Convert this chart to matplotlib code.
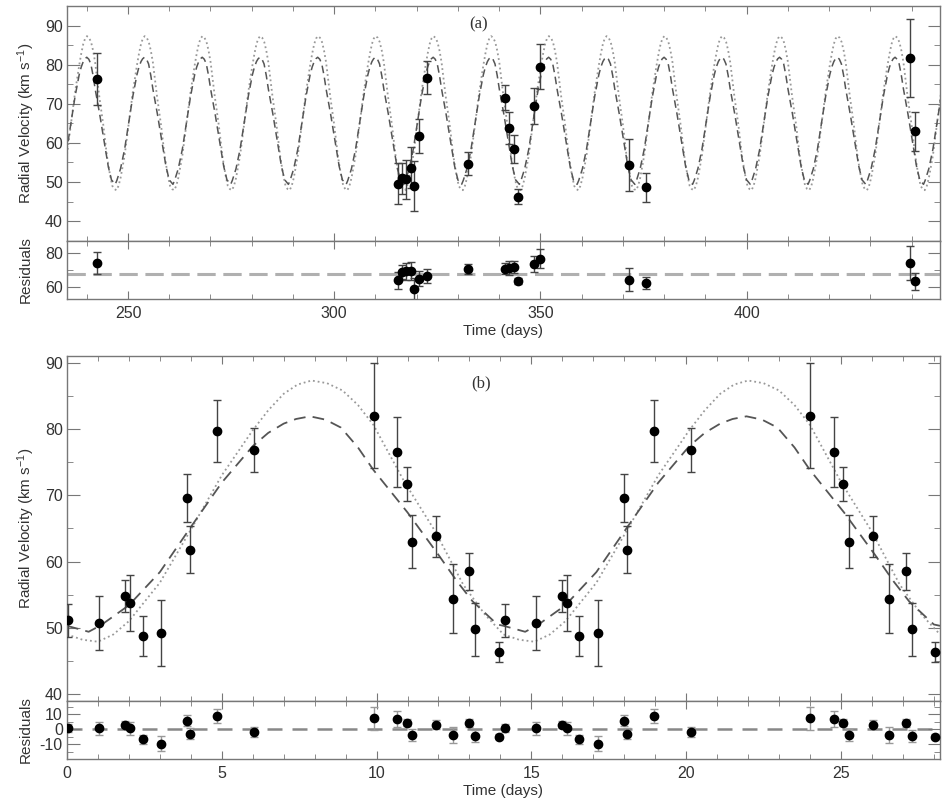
import numpy as np
import matplotlib
matplotlib.use('Agg')
import matplotlib.pyplot as plt
from matplotlib.ticker import MultipleLocator

plt.rcParams['font.family'] = ['Liberation Sans', 'DejaVu Sans']
plt.rcParams['mathtext.default'] = 'regular'
plt.rcParams['axes.unicode_minus'] = False

# ---- panel (a): radial velocity against time ----
time_a = [242.4, 315.5, 316.5, 317.5, 318.6, 319.4, 320.6, 322.6, 332.5, 341.5,
          342.5, 343.5, 344.5, 348.5, 349.8, 371.5, 375.6, 439.7, 440.8]
rv_a = [76.4, 49.6, 50.9, 50.7, 53.7, 49.1, 61.7, 76.7, 54.7, 71.6,
        63.8, 58.4, 46.2, 69.4, 79.5, 54.3, 48.6, 81.8, 63.0]
err_a = [6.6, 5.2, 4.0, 5.0, 5.2, 6.4, 4.3, 4.2, 2.9, 3.2,
         4.0, 3.5, 1.9, 4.6, 5.7, 6.6, 3.6, 10.0, 5.0]
resid_a = [74.1, 64.0, 69.0, 69.4, 69.4, 59.3, 65.1, 66.5, 70.9, 70.9,
           71.3, 71.7, 63.6, 73.8, 76.7, 64.4, 62.6, 74.2, 63.6]
resid_level_a = 67.9

# ---- panel (b): phase folded (days) ----
phase_b = [0.04, 1.04, 1.89, 2.05, 2.44, 3.04, 3.89, 3.98, 4.85, 6.05,
           9.91, 10.67, 10.97, 11.15, 11.92, 12.46, 13.0, 13.19, 13.94]
rv_b = [51.1, 50.7, 54.8, 53.7, 48.8, 49.2, 69.6, 61.8, 79.7, 76.8,
        82.0, 76.5, 71.7, 63.0, 63.8, 54.4, 58.5, 49.8, 46.3]
err_b = [2.5, 4.1, 2.4, 4.2, 3.0, 5.0, 3.6, 3.6, 4.7, 3.3,
         7.9, 5.3, 2.5, 4.0, 3.1, 5.2, 2.8, 4.0, 1.5]
resid_b = [0.8, 0.6, 3.0, 0.6, -6.6, -9.6, 5.7, -3.0, 9.1, -1.6,
           7.3, 6.9, 4.4, -3.6, 3.1, -3.6, 4.2, -4.2, -4.9]

model_phase_dash = [0.0, 0.7, 1.1, 2.0, 3.0, 4.0, 5.0, 6.0, 6.5, 7.0, 7.4, 7.85,
                    8.35, 8.85, 9.4, 9.9, 11.0, 12.0, 12.6, 13.1, 13.9, 14.1]
model_rv_dash = [50.3, 49.4, 50.4, 53.4, 58.4, 65.2, 71.9, 77.4, 79.4, 80.8, 81.5, 81.9,
                 81.4, 80.2, 77.2, 73.8, 67.4, 61.0, 57.0, 54.0, 50.5, 50.3]
model_phase_dot = [0.0, 0.5, 1.0, 1.5, 2.0, 3.0, 4.0, 5.0, 6.0, 6.5, 7.0, 7.45, 7.9,
                   8.4, 8.9, 9.4, 9.9, 10.9, 11.9, 12.8, 13.5, 14.1]
model_rv_dot = [49.0, 48.2, 47.9, 49.0, 51.0, 56.8, 64.8, 73.0, 79.8, 82.8, 85.3, 86.7, 87.3,
                86.9, 85.8, 83.6, 80.6, 72.0, 64.5, 56.5, 52.0, 49.0]

period_b = 14.1
period_a = 14.0
t0_a = 232.2


def repeat_cycles(phase, rv, t0, period, n_first, n_last):
    # lay the one-cycle profile end to end, one copy per orbit
    ts, vs = [], []
    for k in range(n_first, n_last + 1):
        for p, v in zip(phase, rv):
            ts.append(t0 + k * period + p * period / period_b)
            vs.append(v)
    return ts, vs


grey_axis = '#777777'
text_col = '#333333'


def style_axis(ax):
    for sp in ax.spines.values():
        sp.set_color(grey_axis)
        sp.set_linewidth(1.0)
    ax.tick_params(which='both', direction='in', top=True, right=True,
                   color=grey_axis, labelcolor=text_col, labelsize=11.5)
    ax.tick_params(axis='y', which='major', length=9, pad=3)
    ax.tick_params(axis='y', which='minor', length=4.5)
    ax.tick_params(axis='x', which='major', length=6, pad=5)
    ax.tick_params(axis='x', which='minor', length=3.5)


fig = plt.figure(figsize=(9.42, 8.02), dpi=100)
left, width = 0.0711, 0.9268
ax_a = fig.add_axes([left, 0.6999, width, 0.2926])
ax_ar = fig.add_axes([left, 0.6272, width, 0.0727], sharex=ax_a)
ax_b = fig.add_axes([left, 0.1263, width, 0.4298])
ax_br = fig.add_axes([left, 0.0536, width, 0.0727], sharex=ax_b)

err_kw = dict(fmt='o', color='black', ms=6, ecolor='#444444', elinewidth=1.0,
              capsize=3, capthick=1.0, zorder=5)

# panel (a)
t_dot, v_dot = repeat_cycles(model_phase_dot, model_rv_dot, t0_a, period_a, 0, 15)
t_dash, v_dash = repeat_cycles(model_phase_dash, model_rv_dash, t0_a, period_a, 0, 15)
ax_a.plot(t_dot, v_dot, ls=':', color='#999999', lw=1.3)
ax_a.plot(t_dash, v_dash, ls=(0, (5, 3)), color='#555555', lw=1.1)
ax_a.errorbar(time_a, rv_a, yerr=err_a, **err_kw)
ax_a.set_xlim(235.2, 446.9)
ax_a.set_ylim(35, 95)
ax_a.yaxis.set_major_locator(MultipleLocator(10))
ax_a.yaxis.set_minor_locator(MultipleLocator(5))
ax_a.xaxis.set_major_locator(MultipleLocator(50))
ax_a.xaxis.set_minor_locator(MultipleLocator(10))
ax_a.set_ylabel(r'Radial Velocity (km s$^{-1}$)', fontsize=11, color=text_col)
ax_a.yaxis.set_label_coords(-0.034, 0.5)
ax_a.text(0.471, 0.92, '(a)', transform=ax_a.transAxes, family='Liberation Serif',
          fontsize=12, color=text_col, ha='center', va='center')
style_axis(ax_a)
ax_a.tick_params(axis='x', labelbottom=False)

ax_ar.axhline(resid_level_a, ls=(0, (6, 2.5)), color='#b0b0b0', lw=2.2, zorder=1)
ax_ar.errorbar(time_a, resid_a, yerr=err_a, **err_kw)
ax_ar.set_ylim(53.2, 87.2)
ax_ar.yaxis.set_major_locator(MultipleLocator(20))
ax_ar.yaxis.set_minor_locator(MultipleLocator(10))
ax_ar.set_ylabel('Residuals', fontsize=11, color=text_col)
ax_ar.yaxis.set_label_coords(-0.039, 0.5)
ax_ar.set_xlabel('Time (days)', fontsize=11, color=text_col, labelpad=2)
style_axis(ax_ar)

# panel (b)
tb_dot, vb_dot = repeat_cycles(model_phase_dot, model_rv_dot, 0.0, period_b, 0, 1)
tb_dash, vb_dash = repeat_cycles(model_phase_dash, model_rv_dash, 0.0, period_b, 0, 1)
ax_b.plot(tb_dot, vb_dot, ls=':', color='#999999', lw=1.3)
ax_b.plot(tb_dash, vb_dash, ls=(0, (6.5, 4)), color='#555555', lw=1.3)
phase_b2 = np.array(phase_b) + period_b
ax_b.errorbar(phase_b, rv_b, yerr=err_b, **err_kw)
ax_b.errorbar(phase_b2, rv_b, yerr=err_b, **err_kw)
ax_b.set_xlim(0, 28.2)
ax_b.set_ylim(39, 91)
ax_b.yaxis.set_major_locator(MultipleLocator(10))
ax_b.yaxis.set_minor_locator(MultipleLocator(5))
ax_b.xaxis.set_major_locator(MultipleLocator(5))
ax_b.xaxis.set_minor_locator(MultipleLocator(1))
ax_b.set_ylabel(r'Radial Velocity (km s$^{-1}$)', fontsize=11, color=text_col)
ax_b.yaxis.set_label_coords(-0.034, 0.5)
ax_b.text(0.474, 0.92, '(b)', transform=ax_b.transAxes, family='Liberation Serif',
          fontsize=12, color=text_col, ha='center', va='center')
style_axis(ax_b)
ax_b.tick_params(axis='x', labelbottom=False)

res_kw = dict(err_kw)
res_kw['ecolor'] = '#999999'
ax_br.axhline(0, ls=(0, (6, 4)), color='#888888', lw=1.8, zorder=1)
ax_br.errorbar(phase_b, resid_b, yerr=err_b, **res_kw)
ax_br.errorbar(phase_b2, resid_b, yerr=err_b, **res_kw)
ax_br.set_ylim(-19.8, 19.1)
ax_br.yaxis.set_major_locator(MultipleLocator(10))
ax_br.yaxis.set_minor_locator(MultipleLocator(5))
ax_br.set_ylabel('Residuals', fontsize=11, color=text_col)
ax_br.yaxis.set_label_coords(-0.039, 0.5)
ax_br.set_xlabel('Time (days)', fontsize=11, color=text_col, labelpad=2)
style_axis(ax_br)

fig.savefig('out.png', dpi=100)
